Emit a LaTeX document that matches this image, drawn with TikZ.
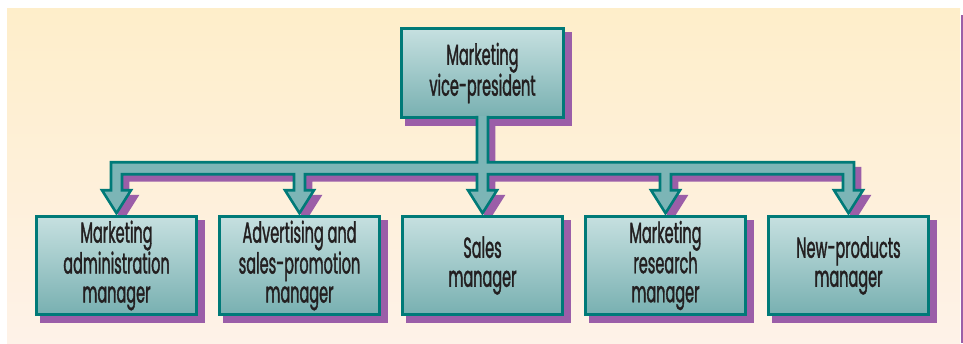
\documentclass[tikz,border=0pt]{standalone}
\usepackage{fontspec}
\setmainfont{Poppins}[FakeStretch=0.5, FakeBold=1.2]
\usetikzlibrary{calc,backgrounds}

\definecolor{orgteal}{RGB}{0,122,120}
\definecolor{orgtop}{RGB}{198,224,224}
\definecolor{orgbot}{RGB}{120,176,177}
\definecolor{orgarrow}{RGB}{124,181,182}
\definecolor{orgshadow}{RGB}{155,94,168}
\definecolor{creamtop}{RGB}{254,238,202}
\definecolor{creambot}{RGB}{254,242,232}
\definecolor{orgtext}{RGB}{35,31,32}

\tikzset{
  post/.style={draw=orgteal, line width=2.6pt, top color=orgtop, bottom color=orgbot,
    text=orgtext, align=center, font=\fontsize{29}{29}\selectfont,
    minimum width=160pt, minimum height=98pt, inner sep=0pt},
  postshadow/.style={fill=orgshadow, draw=orgshadow, line width=2.6pt,
    transform canvas={shift={(6,6)}}}
}

% one arrow head, below the bar, for box #1
\newcommand\orghead[1]{-- ($(d#1)+(-5.5,0)$) -- ($(d#1)+(-14.5,0)$) -- (t#1)
  -- ($(d#1)+(14.5,0)$) -- ($(d#1)+(5.5,0)$)}
% the whole branching arrow
\newcommand\orgtree{($(vp.south)+(-5.5,-3)$) |- ($(d1)+(-5.5,-28)$)
  \orghead{1} -- ($(d1)+(5.5,-16)$)
  -- ($(d2)+(-5.5,-16)$) \orghead{2} -- ($(d2)+(5.5,-16)$)
  -- ($(d3)+(-5.5,-16)$) \orghead{3} -- ($(d3)+(5.5,-16)$)
  -- ($(d4)+(-5.5,-16)$) \orghead{4} -- ($(d4)+(5.5,-16)$)
  -- ($(d5)+(-5.5,-16)$) \orghead{5} -- ($(d5)+(5.5,-28)$)
  -| ($(vp.south)+(5.5,-3)$)}

\begin{document}
\begin{tikzpicture}[x=1pt,y=-1pt]
    \useasboundingbox (0,0) rectangle (963,343);

    \node[post, minimum width=162pt, minimum height=89pt] (vp) at (482.5,73) {Marketing\\vice-president};

    \foreach \i/\x/\txt in {
        1/116.5/{Marketing\\administration\\manager},
        2/299.5/{Advertising and\\sales-promotion\\manager},
        3/482.5/{Sales\\manager},
        4/665.5/{Marketing\\research\\manager},
        5/848.5/{New-products\\manager}}
    {
        \node[post] (m\i) at (\x,265.5) {\txt};
        \coordinate (t\i) at ($(m\i.north)+(0,-2)$);
        \coordinate (d\i) at ($(t\i)+(0,-23)$);
    }

    \begin{scope}[on background layer]
        \shade[top color=creamtop, bottom color=creambot] (7,8) rectangle (960,343);
        \fill[orgshadow] (961,15) rectangle (963,343);
        \filldraw[postshadow] (vp.south west) rectangle (vp.north east);
        \foreach \i in {1,...,5}
            \filldraw[postshadow] (m\i.south west) rectangle (m\i.north east);
        \filldraw[postshadow] \orgtree;
    \end{scope}

    \filldraw[draw=orgteal, fill=orgarrow, line width=2.6pt] \orgtree;
\end{tikzpicture}
\end{document}
